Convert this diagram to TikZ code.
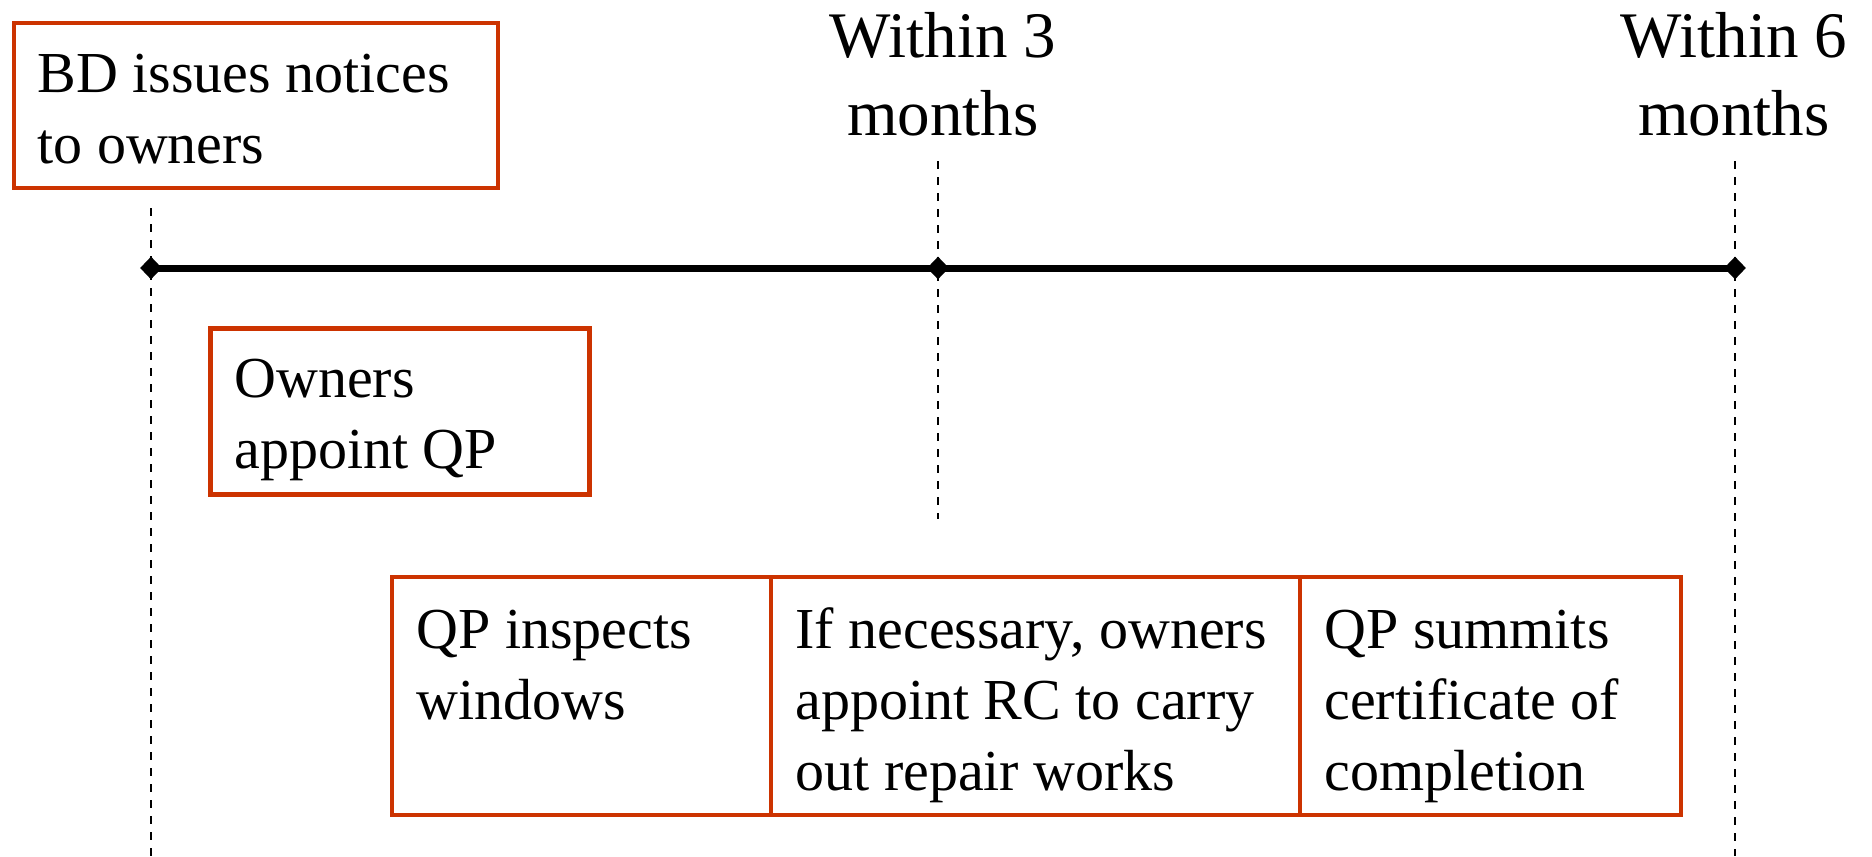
\documentclass[tikz,border=0pt]{standalone}
\usepackage{fontspec}
\setmainfont{Liberation Serif}
\usetikzlibrary{shapes.geometric}
\definecolor{boxred}{RGB}{204,51,0}
\tikzset{
  stepbox/.style={draw=boxred, line width=2.3pt, rectangle, inner sep=0pt},
  bodytext/.style={inner sep=0pt, anchor=base west, align=left, font=\fontsize{29pt}{35.5pt}\selectfont},
  headtext/.style={inner sep=0pt, anchor=base, align=center, font=\fontsize{32.5pt}{39pt}\selectfont},
  mark diamond/.style={diamond, fill=black, inner sep=0pt, minimum width=11pt, minimum height=11.5pt},
  guide/.style={dash pattern=on 4pt off 4pt, line width=0.75pt},
  axis/.style={line width=3.5pt}
}
\begin{document}
\begin{tikzpicture}[x=0.5pt, y=-0.5pt]
\useasboundingbox (0,0) rectangle (1872,856);
% guides
\coordinate (g0t) at (151,208);
\coordinate (g0b) at (151,856);
\coordinate (g1t) at (938,161);
\coordinate (g1b) at (938,519);
\coordinate (g2t) at (1735,161);
\coordinate (g2b) at (1735,856);
\draw[guide] (g0t) -- (g0b);
\draw[guide] (g1t) -- (g1b);
\draw[guide] (g2t) -- (g2b);
% timeline
\node[mark diamond] (m0) at (151,268) {};
\node[mark diamond] (m1) at (938,268) {};
\node[mark diamond] (m2) at (1735,268) {};
\draw[axis] (m0.center) -- (m1.center) -- (m2.center);
% headers (anchored at baseline of last line)
\node[headtext] (h1) at (943,135) {Within 3\\months};
\node[headtext] (h2) at (1734,135) {Within 6\\months};
% boxes
\node[stepbox, minimum width=242pt, minimum height=82.5pt] (b1) at (256,105.5) {};
\node[stepbox, minimum width=189.5pt, minimum height=83pt] (b2) at (400,411.5) {};
\node[stepbox, minimum width=189.5pt, minimum height=119pt] (b3) at (581.5,696) {};
\node[stepbox, minimum width=264.5pt, minimum height=119pt] (b4) at (1035.5,696) {};
\node[stepbox, minimum width=190.5pt, minimum height=119pt] (b5) at (1490.5,696) {};
% texts (anchored at baseline of last line)
\node[bodytext] (t1) at (37,163) {BD issues notices\\to owners};
\node[bodytext] (t2) at (234,468) {Owners\\appoint QP};
\node[bodytext] (t3) at (416,719) {QP inspects\\windows};
\node[bodytext] (t4) at (795,790) {If necessary, owners\\appoint RC to carry\\out repair works};
\node[bodytext] (t5) at (1324,790) {QP summits\\certificate of\\completion};
\end{tikzpicture}
\end{document}
